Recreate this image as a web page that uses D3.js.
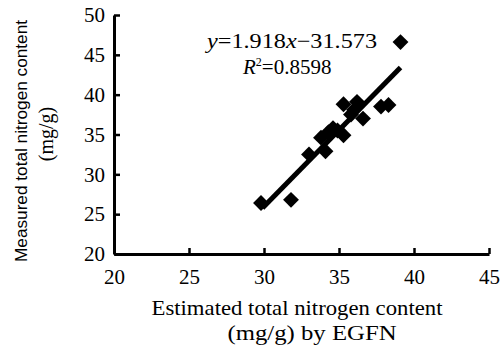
<!DOCTYPE html>
<html>
<head>
<meta charset="utf-8">
<script src="https://cdn.jsdelivr.net/npm/d3@7"></script>
<style>
  body { margin: 0; background: #fff; }
</style>
</head>
<body>
<div id="chart"></div>
<script>
var w = 501, h = 348;
var serif = "'Liberation Serif', 'Times New Roman', Times, 'DejaVu Serif', serif";
var sans = "'Liberation Sans', Arial, Helvetica, sans-serif";

// estimated (x) vs measured (y) total nitrogen, mg/g
var estimated = [29.8, 31.8, 33.0, 34.1, 33.8, 34.3, 34.6, 34.9, 35.3, 35.3, 35.8, 36.0, 36.2, 36.6, 37.8, 38.3, 39.1];
var measured  = [26.4, 26.8, 32.5, 32.9, 34.6, 35.3, 35.8, 35.5, 34.9, 38.8, 37.5, 38.1, 39.1, 37.0, 38.5, 38.7, 46.6];
var slope = 1.918, intercept = -31.573;
var fitRange = [29.9, 39.1];
var xTicks = [20, 25, 30, 35, 40, 45];
var yTicks = [20, 25, 30, 35, 40, 45, 50];

var data = estimated.map(function(d, i) { return [d, measured[i]]; });

var chart = d3.select("#chart")
  .append("svg")
  .attr("width", w)
  .attr("height", h)
  .attr("font-family", serif);

var xScale = d3.scaleLinear().domain([20, 45]).range([114, 489]);
var yScale = d3.scaleLinear().domain([20, 50]).range([254, 15]);

// axes, ticks pointing inward
var xAxis = d3.axisBottom(xScale).tickValues(xTicks).tickSizeInner(-6).tickSizeOuter(0).tickPadding(15);
var yAxis = d3.axisLeft(yScale).tickValues(yTicks).tickSizeInner(-6).tickSizeOuter(0).tickPadding(9);

var gx = chart.append("g")
  .attr("transform", "translate(0," + yScale(20) + ")")
  .call(xAxis);
var gy = chart.append("g")
  .attr("transform", "translate(" + xScale(20) + ",0)")
  .call(yAxis);

[gx, gy].forEach(function(g) {
  g.attr("font-family", serif).attr("font-size", 21);
  g.select(".domain").attr("stroke", "#000").attr("stroke-width", 3);
  g.selectAll(".tick line").attr("stroke", "#000").attr("stroke-width", 2.5);
  g.selectAll(".tick text").attr("fill", "#000");
});

// regression line
chart.append("path")
  .datum(fitRange)
  .attr("fill", "none")
  .attr("stroke", "#000")
  .attr("stroke-width", 5)
  .attr("d", d3.line()
    .x(function(d) { return xScale(d); })
    .y(function(d) { return yScale(slope * d + intercept); }));

// diamond markers
chart.selectAll(".pt")
  .data(data)
  .enter().append("path")
  .attr("class", "pt")
  .attr("fill", "#000")
  .attr("transform", function(d) { return "translate(" + xScale(d[0]) + "," + yScale(d[1]) + ")"; })
  .attr("d", d3.symbol().type(d3.symbolDiamond2).size(160));

// equation
var eq = chart.append("text")
  .attr("x", 207)
  .attr("y", 48)
  .attr("font-size", 21)
  .attr("textLength", 170)
  .attr("lengthAdjust", "spacingAndGlyphs");
eq.append("tspan").attr("font-style", "italic").text("y");
eq.append("tspan").text("=1.918");
eq.append("tspan").attr("font-style", "italic").text("x");
eq.append("tspan").text("\u221231.573");

var r2 = chart.append("text")
  .attr("x", 243)
  .attr("y", 74)
  .attr("font-size", 21);
r2.append("tspan").attr("font-style", "italic").text("R");
r2.append("tspan").attr("dy", -8).attr("font-size", 12).text("2");
r2.append("tspan").attr("dy", 8).text("=0.8598");

// x label
chart.append("text")
  .attr("x", 297)
  .attr("y", 315)
  .attr("text-anchor", "middle")
  .attr("font-size", 21)
  .attr("textLength", 291)
  .attr("lengthAdjust", "spacingAndGlyphs")
  .text("Estimated total nitrogen content");
chart.append("text")
  .attr("x", 312)
  .attr("y", 340)
  .attr("text-anchor", "middle")
  .attr("font-size", 21)
  .attr("textLength", 169)
  .attr("lengthAdjust", "spacingAndGlyphs")
  .text("(mg/g) by EGFN");

// y label
chart.append("text")
  .attr("transform", "translate(27,141) rotate(-90)")
  .attr("text-anchor", "middle")
  .attr("font-family", sans)
  .attr("font-size", 16)
  .attr("textLength", 242)
  .attr("lengthAdjust", "spacingAndGlyphs")
  .text("Measured total nitrogen content");
chart.append("text")
  .attr("transform", "translate(53,134) rotate(-90)")
  .attr("text-anchor", "middle")
  .attr("font-size", 20)
  .text("(mg/g)");
</script>
</body>
</html>
